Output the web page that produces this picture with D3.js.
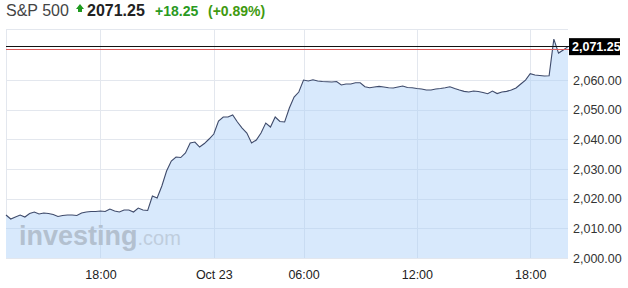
<!DOCTYPE html>
<html>
<head>
<meta charset="utf-8">
<script src="https://cdn.jsdelivr.net/npm/d3@7"></script>
<style>
  body { margin: 0; background: #fff; }
  svg { display: block; font-family: Arial, "Liberation Sans", sans-serif; }
</style>
</head>
<body>
<svg id="chart" width="628" height="288"></svg>
<script>
    // S&P 500, 15 min points, Oct 22 afternoon -> Oct 23 evening
    const prices = [
      2014.49, 2013.14, 2013.82, 2014.49, 2013.82, 2015.00, 2015.50, 2014.83, 2015.17, 2015.00,
      2014.66, 2013.99, 2014.32, 2014.49, 2014.49, 2014.32, 2015.17, 2015.50, 2015.67, 2015.67,
      2015.84, 2015.67, 2016.52, 2015.84, 2015.50, 2016.18, 2016.18, 2015.50, 2016.85, 2016.18,
      2016.01, 2020.90, 2020.22, 2024.27, 2029.32, 2032.69, 2034.04, 2033.87, 2035.39, 2038.76,
      2039.10, 2037.41, 2038.59, 2040.11, 2041.79, 2046.17, 2047.52, 2047.52, 2048.20, 2045.84,
      2043.82, 2042.13, 2038.76, 2039.77, 2042.13, 2045.50, 2044.15, 2047.52, 2046.01, 2045.84,
      2050.56, 2054.26, 2055.95, 2059.99, 2059.66, 2060.09, 2059.66, 2059.49, 2059.42, 2059.32,
      2059.49, 2058.31, 2058.65, 2058.65, 2059.08, 2059.08, 2057.74, 2057.40, 2057.63, 2057.87,
      2057.63, 2057.40, 2057.30, 2057.63, 2057.97, 2057.47, 2057.40, 2057.13, 2056.96, 2056.62,
      2056.62, 2056.96, 2057.13, 2057.40, 2057.74, 2057.13, 2056.62, 2056.18, 2055.95, 2056.29,
      2056.12, 2055.78, 2055.38, 2056.29, 2055.44, 2055.95, 2056.18, 2056.62, 2057.30, 2058.65,
      2059.99, 2062.12, 2061.68, 2061.51, 2061.34, 2061.44, 2073.81, 2069.09, 2070.10, 2071.25
    ];

    const timeLabels = ["18:00", "Oct 23", "06:00", "12:00", "18:00"];
    const timeIndex = [20, 44, 63, 87, 111];
    const priceTicks = [2000, 2010, 2020, 2030, 2040, 2050, 2060];

    const lastPrice = 2071.25;
    const refLine = 2070.34;
    const change = "+18.25";
    const changePct = "(+0.89%)";

    const plotLeft = 6, plotRight = 568, plotTop = 29, plotBottom = 258;

    const svg = d3.select("#chart");

    const x = d3.scaleLinear()
        .domain([0, prices.length - 1])
        .range([plotLeft, plotRight]);

    const y = d3.scaleLinear()
        .domain([2000, 2077.2])
        .range([plotBottom, plotTop]);

    // grid
    const grid = svg.append("g");
    grid.selectAll("line.h")
        .data(priceTicks.concat([y.invert(plotTop)]))
        .join("line")
          .attr("x1", plotLeft).attr("x2", plotRight)
          .attr("y1", d => Math.round(y(d)) + 0.5).attr("y2", d => Math.round(y(d)) + 0.5)
          .style("stroke", "#e3e7ee")
          .style("stroke-width", 1);
    grid.selectAll("line.v")
        .data([0].concat(timeIndex))
        .join("line")
          .attr("x1", d => Math.round(x(d)) + 0.5).attr("x2", d => Math.round(x(d)) + 0.5)
          .attr("y1", plotTop).attr("y2", plotBottom)
          .style("stroke", "#e3e7ee")
          .style("stroke-width", 1);

    // area + line
    const area = d3.area()
        .x((d, i) => x(i))
        .y0(plotBottom)
        .y1(d => y(d));

    const line = d3.line()
        .x((d, i) => x(i))
        .y(d => y(d));

    const clip = svg.append("clipPath").attr("id", "under");
    clip.append("path").datum(prices).attr("d", area);

    svg.append("path")
        .datum(prices)
        .attr("d", area)
        .style("fill", "#d8e9fc");

    // grid shows faintly through the fill
    const gridIn = svg.append("g").attr("clip-path", "url(#under)");
    gridIn.selectAll("line.v")
        .data(timeIndex)
        .join("line")
          .attr("x1", d => Math.round(x(d)) + 0.5).attr("x2", d => Math.round(x(d)) + 0.5)
          .attr("y1", plotTop).attr("y2", plotBottom)
          .style("stroke", "#c9dcf2")
          .style("stroke-width", 1);
    gridIn.selectAll("line.h")
        .data(priceTicks.slice(1))
        .join("line")
          .attr("x1", plotLeft).attr("x2", plotRight)
          .attr("y1", d => Math.round(y(d)) + 0.5).attr("y2", d => Math.round(y(d)) + 0.5)
          .style("stroke", "#c9dcf2")
          .style("stroke-width", 1);

    // watermark
    const wm = svg.append("text")
        .attr("x", 19)
        .attr("y", 245);
    wm.append("tspan")
        .text("investing")
        .style("font-size", "27px")
        .style("font-weight", "bold")
        .style("fill", "#b3c0cf");
    wm.append("tspan")
        .text(".com")
        .style("fill", "#bfcddd")
        .style("font-size", "20px");

    svg.append("path")
        .datum(prices)
        .attr("d", line)
        .style("fill", "none")
        .style("stroke", "#3f4b6b")
        .style("stroke-width", 1.1);

    // last price + reference line
    svg.append("line")
        .attr("x1", plotLeft).attr("x2", plotRight + 1)
        .attr("y1", Math.round(y(lastPrice)) - 0.5).attr("y2", Math.round(y(lastPrice)) - 0.5)
        .style("stroke", "#111")
        .style("stroke-width", 1.2);
    svg.append("line")
        .attr("x1", plotLeft).attr("x2", plotRight + 1)
        .attr("y1", Math.round(y(refLine)) + 0.5).attr("y2", Math.round(y(refLine)) + 0.5)
        .style("stroke", "#dc5a5a")
        .style("stroke-width", 1.2);

    // y axis labels
    const yAxis = svg.append("g")
        .attr("transform", "translate(" + (plotRight + 5) + ",0)")
        .call(d3.axisRight(y).tickValues(priceTicks).tickSize(0).tickPadding(0).tickFormat(d3.format(",.2f")));
    yAxis.select(".domain").remove();
    yAxis.selectAll("text")
        .style("font-family", "Arial, 'Liberation Sans', sans-serif")
        .style("font-size", "12.5px")
        .style("fill", "#333");

    svg.append("rect")
        .attr("x", plotRight + 1)
        .attr("y", y(lastPrice) - 8.5)
        .attr("width", 51)
        .attr("height", 17)
        .style("fill", "#000");
    svg.append("text")
        .attr("x", plotRight + 4)
        .attr("y", y(lastPrice) + 4.5)
        .text(d3.format(",.2f")(lastPrice))
        .style("font-size", "12.5px")
        .style("font-weight", "bold")
        .style("fill", "#fff");

    // x axis labels
    const xAxis = svg.append("g")
        .attr("transform", "translate(0," + plotBottom + ")")
        .call(d3.axisBottom(x).tickValues(timeIndex).tickSize(0).tickPadding(12)
            .tickFormat((d, i) => timeLabels[i]));
    xAxis.select(".domain").remove();
    xAxis.selectAll("text")
        .style("font-family", "Arial, 'Liberation Sans', sans-serif")
        .style("font-size", "12.5px")
        .style("fill", "#222");

    // header
    const head = svg.append("g").attr("transform", "translate(6,16)");
    head.append("text")
        .text("S&P 500")
        .style("font-size", "16px")
        .style("fill", "#444");
    head.append("path")
        .attr("d", "M74,-12 L78,-7 L76,-7 L76,-4 L72,-4 L72,-7 L70,-7 Z")
        .style("fill", "#1f9a1f");
    head.append("text")
        .attr("x", 81)
        .text(d3.format(".2f")(lastPrice))
        .style("font-size", "16px")
        .style("font-weight", "bold")
        .style("fill", "#222");
    head.append("text")
        .attr("x", 149)
        .text(change)
        .style("font-size", "14px")
        .style("font-weight", "bold")
        .style("fill", "#2a9a22");
    head.append("text")
        .attr("x", 202)
        .text(changePct)
        .style("font-size", "14px")
        .style("font-weight", "bold")
        .style("fill", "#3f9a10");
</script>
</body>
</html>
